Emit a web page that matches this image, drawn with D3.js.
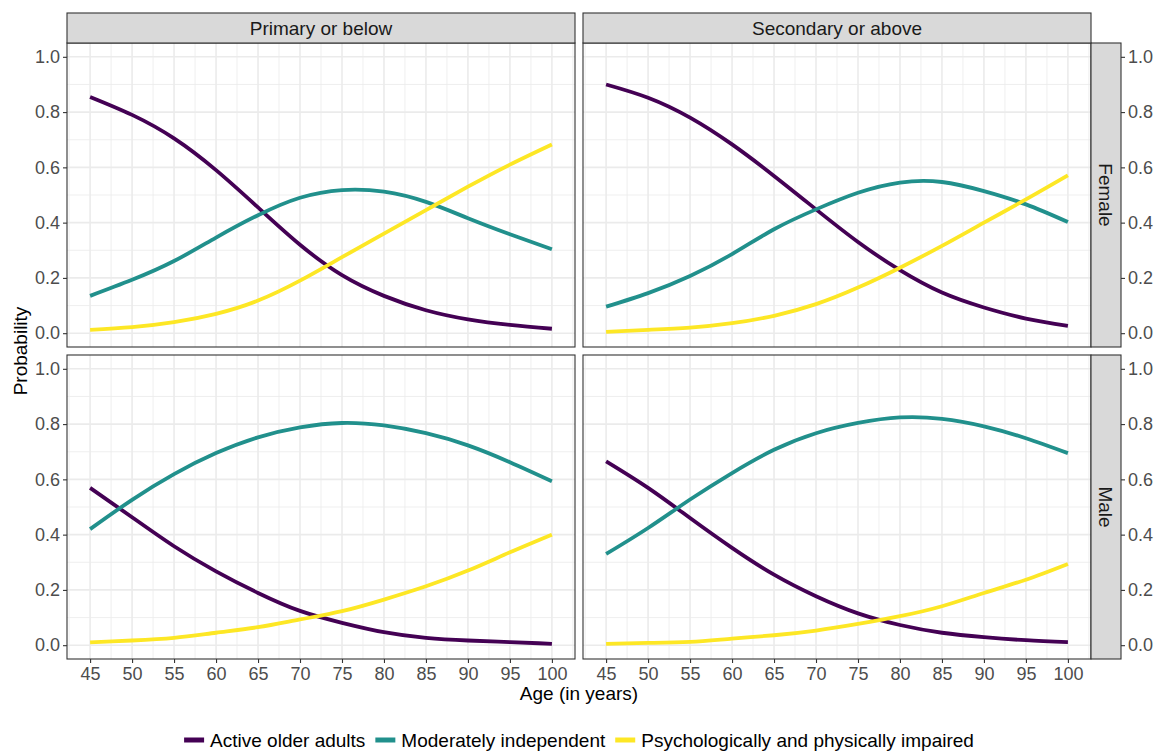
<!DOCTYPE html>
<html>
<head>
<meta charset="utf-8">
<script src="https://cdn.jsdelivr.net/npm/d3@7"></script>
<style>
  body { margin: 0; background: white; }
  svg { font-family: "Liberation Sans", Arial, sans-serif; }
</style>
</head>
<body>
<div id="chart"></div>
<script>
// ages at which the curves were read
var ages = [45, 50, 55, 60, 65, 70, 75, 80, 85, 90, 95, 100];
var educationLevels = ["Primary or below", "Secondary or above"];
var sexes = ["Female", "Male"];
var classNames = ["Active older adults", "Moderately independent", "Psychologically and physically impaired"];
var classColors = ["#440154", "#21908C", "#FDE725"];
var xTicks = [45, 50, 55, 60, 65, 70, 75, 80, 85, 90, 95, 100];
var yTicks = [0, 0.2, 0.4, 0.6, 0.8, 1.0];

// Female, primary or below
var activeFemalePrimary   = [0.855, 0.79, 0.705, 0.59, 0.455, 0.32, 0.21, 0.135, 0.083, 0.05, 0.03, 0.016];
var moderateFemalePrimary = [0.135, 0.193, 0.261, 0.346, 0.427, 0.49, 0.518, 0.512, 0.475, 0.416, 0.358, 0.304];
var impairedFemalePrimary = [0.012, 0.022, 0.04, 0.07, 0.118, 0.19, 0.275, 0.36, 0.445, 0.53, 0.61, 0.683];
// Female, secondary or above
var activeFemaleSecondary   = [0.90, 0.852, 0.78, 0.683, 0.569, 0.448, 0.33, 0.228, 0.147, 0.093, 0.053, 0.0265];
var moderateFemaleSecondary = [0.096, 0.145, 0.207, 0.286, 0.376, 0.448, 0.508, 0.545, 0.547, 0.514, 0.466, 0.402];
var impairedFemaleSecondary = [0.005, 0.012, 0.02, 0.036, 0.063, 0.105, 0.165, 0.237, 0.316, 0.40, 0.484, 0.571];
// Male, primary or below
var activeMalePrimary   = [0.569, 0.463, 0.358, 0.267, 0.189, 0.124, 0.081, 0.047, 0.0265, 0.017, 0.011, 0.005];
var moderateMalePrimary = [0.42, 0.526, 0.619, 0.695, 0.752, 0.788, 0.804, 0.795, 0.767, 0.723, 0.662, 0.593];
var impairedMalePrimary = [0.01, 0.017, 0.0265, 0.045, 0.065, 0.093, 0.123, 0.165, 0.213, 0.27, 0.336, 0.40];
// Male, secondary or above
var activeMaleSecondary   = [0.665, 0.569, 0.46, 0.352, 0.255, 0.177, 0.115, 0.073, 0.045, 0.029, 0.018, 0.011];
var moderateMaleSecondary = [0.33, 0.424, 0.527, 0.623, 0.707, 0.767, 0.804, 0.824, 0.819, 0.792, 0.749, 0.695];
var impairedMaleSecondary = [0.005, 0.008, 0.012, 0.024, 0.036, 0.053, 0.077, 0.105, 0.141, 0.189, 0.237, 0.294];

var panels = [
    { row: 0, col: 0, series: [activeFemalePrimary, moderateFemalePrimary, impairedFemalePrimary] },
    { row: 0, col: 1, series: [activeFemaleSecondary, moderateFemaleSecondary, impairedFemaleSecondary] },
    { row: 1, col: 0, series: [activeMalePrimary, moderateMalePrimary, impairedMalePrimary] },
    { row: 1, col: 1, series: [activeMaleSecondary, moderateMaleSecondary, impairedMaleSecondary] }
];

var W = 1155, H = 751;
var colX = [[67, 575], [583, 1091]];
var rowY = [[43, 347], [355, 659]];
var stripH = 30;
var grey = "#333333", gridCol = "#EBEBEB", tickText = "#4D4D4D";

var svg = d3.select("#chart").append("svg")
    .attr("width", W)
    .attr("height", H);

function xScale(c) {
    return d3.scaleLinear().domain([42.25, 102.75]).range(colX[c]);
}
function yScale(r) {
    return d3.scaleLinear().domain([-0.05, 1.05]).range([rowY[r][1], rowY[r][0]]);
}

var xMinor = d3.range(42.5, 103, 5);
var yMinor = [0.1, 0.3, 0.5, 0.7, 0.9];

panels.forEach(function(p) {
    var xS = xScale(p.col), yS = yScale(p.row);
    var g = svg.append("g");
    var x0 = colX[p.col][0], x1 = colX[p.col][1];
    var y0 = rowY[p.row][0], y1 = rowY[p.row][1];

    g.selectAll(".vminor").data(xMinor).enter().append("line")
        .attr("x1", d => xS(d)).attr("x2", d => xS(d))
        .attr("y1", y0).attr("y2", y1)
        .attr("stroke", gridCol).attr("stroke-width", 0.8);
    g.selectAll(".hminor").data(yMinor).enter().append("line")
        .attr("x1", x0).attr("x2", x1)
        .attr("y1", d => yS(d)).attr("y2", d => yS(d))
        .attr("stroke", gridCol).attr("stroke-width", 0.8);
    g.selectAll(".vmajor").data(xTicks).enter().append("line")
        .attr("x1", d => xS(d)).attr("x2", d => xS(d))
        .attr("y1", y0).attr("y2", y1)
        .attr("stroke", gridCol).attr("stroke-width", 1.6);
    g.selectAll(".hmajor").data(yTicks).enter().append("line")
        .attr("x1", x0).attr("x2", x1)
        .attr("y1", d => yS(d)).attr("y2", d => yS(d))
        .attr("stroke", gridCol).attr("stroke-width", 1.6);

    var line = d3.line()
        .x((d, i) => xS(ages[i]))
        .y(d => yS(d))
        .curve(d3.curveNatural);

    p.series.forEach(function(s, k) {
        g.append("path")
            .datum(s)
            .attr("d", line)
            .attr("fill", "none")
            .attr("stroke", classColors[k])
            .attr("stroke-width", 3.8);
    });

    g.append("rect")
        .attr("x", x0).attr("y", y0)
        .attr("width", x1 - x0).attr("height", y1 - y0)
        .attr("fill", "none").attr("stroke", grey).attr("stroke-width", 1.1);

    function tidy(ax) {
        ax.select(".domain").remove();
        ax.selectAll(".tick line").attr("stroke", grey).attr("stroke-width", 1.1);
        ax.selectAll(".tick text").attr("fill", tickText).style("font-size", "18px")
            .attr("font-family", null);
    }

    if (p.col === 0) {
        svg.append("g")
            .attr("transform", "translate(" + x0 + ",0)")
            .call(d3.axisLeft(yS).tickValues(yTicks).tickFormat(d3.format(".1f")).tickSize(4).tickPadding(3))
            .call(tidy);
    } else {
        svg.append("g")
            .attr("transform", "translate(" + (x1 + stripH) + ",0)")
            .call(d3.axisRight(yS).tickValues(yTicks).tickFormat(d3.format(".1f")).tickSize(4).tickPadding(3))
            .call(tidy);
        // row strip
        svg.append("rect")
            .attr("x", x1).attr("y", y0)
            .attr("width", stripH).attr("height", y1 - y0)
            .attr("fill", "#D9D9D9").attr("stroke", grey).attr("stroke-width", 1.1);
        svg.append("text")
            .attr("transform", "translate(" + (x1 + stripH / 2) + "," + ((y0 + y1) / 2) + ") rotate(90)")
            .attr("text-anchor", "middle")
            .attr("dy", "0.35em")
            .attr("fill", "#1A1A1A")
            .style("font-size", "19px")
            .text(sexes[p.row]);
    }
    if (p.row === 1) {
        svg.append("g")
            .attr("transform", "translate(0," + y1 + ")")
            .call(d3.axisBottom(xS).tickValues(xTicks).tickSize(4).tickPadding(4))
            .call(tidy);
    } else {
        svg.append("rect")
            .attr("x", x0).attr("y", y0 - stripH)
            .attr("width", x1 - x0).attr("height", stripH)
            .attr("fill", "#D9D9D9").attr("stroke", grey).attr("stroke-width", 1.1);
        svg.append("text")
            .attr("x", (x0 + x1) / 2).attr("y", y0 - stripH / 2)
            .attr("text-anchor", "middle")
            .attr("dy", "0.35em")
            .attr("fill", "#1A1A1A")
            .style("font-size", "19px")
            .text(educationLevels[p.col]);
    }
});

// axis titles
svg.append("text")
    .attr("x", (colX[0][0] + colX[1][1]) / 2)
    .attr("y", 700)
    .attr("text-anchor", "middle")
    .style("font-size", "19px")
    .text("Age (in years)");

svg.append("text")
    .attr("transform", "translate(27," + ((rowY[0][0] + rowY[1][1]) / 2) + ") rotate(-90)")
    .attr("text-anchor", "middle")
    .style("font-size", "19px")
    .text("Probability");

// legend
var legend = svg.append("g");
var lx = 0;
classNames.forEach(function(name, k) {
    var item = legend.append("g").attr("transform", "translate(" + lx + ",0)");
    item.append("line")
        .attr("x1", 0).attr("x2", 20)
        .attr("y1", 0).attr("y2", 0)
        .attr("stroke", classColors[k]).attr("stroke-width", 5);
    var t = item.append("text")
        .attr("x", 26).attr("dy", "0.35em")
        .style("font-size", "19px")
        .text(name);
    lx += 26 + t.node().getComputedTextLength() + 10;
});
lx -= 10;
legend.attr("transform", "translate(" + ((colX[0][0] + colX[1][1]) / 2 - lx / 2) + ",740)");
</script>
</body>
</html>
